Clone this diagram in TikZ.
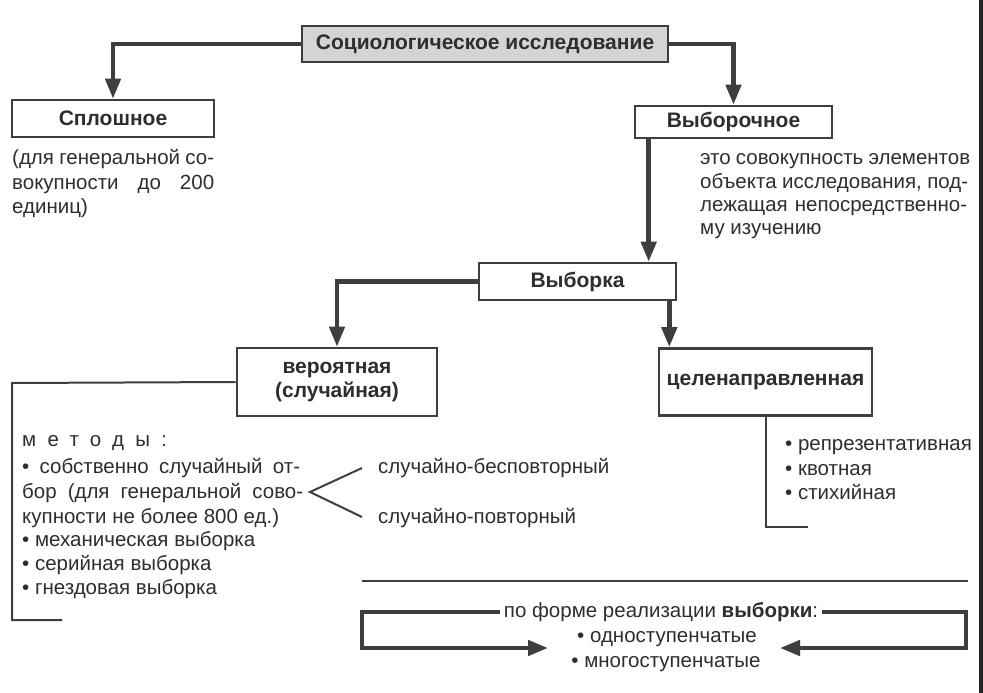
\documentclass[tikz,border=0pt]{standalone}
\usepackage{fontspec}
\setmainfont{Liberation Sans}
\usetikzlibrary{arrows.meta,calc}
\definecolor{lc}{HTML}{3E3E3E}
\definecolor{tc}{HTML}{2E2E2E}
\definecolor{topfill}{HTML}{D4D4D4}
\begin{document}
\begin{tikzpicture}[x=1pt,y=-1pt,
  box/.style={draw=lc, line width=2.6pt, fill=white, inner sep=0pt, text=tc, align=center,
    font=\bfseries\fontsize{21}{24}\selectfont},
  arr/.style={draw=lc, line width=4.5pt, -{Triangle[width=15pt,length=20pt]}},
  thinline/.style={draw=lc, line width=2pt},
  sepline/.style={draw=lc, line width=2.6pt},
  txt/.style={anchor=base west, inner sep=0pt, text=tc, font=\fontsize{20.5}{24}\selectfont},
  ctxt/.style={anchor=base, inner sep=0pt, text=tc, font=\fontsize{20.5}{24}\selectfont},
]
\fill[white] (0,0) rectangle (983,693);
\useasboundingbox (0,0) rectangle (983,693);
\fill[black!85] (979,0) rectangle (983,693);

% boxes
\node[box, fill=topfill, minimum width=366pt, minimum height=36pt] (top) at (485,44) {Социологическое исследование};
\node[box, minimum width=202pt, minimum height=37pt] (spl) at (113,118.5) {Сплошное};
\node[box, minimum width=197pt, minimum height=32pt] (vyb) at (733.5,122) {Выборочное};
\node[box, minimum width=197pt, minimum height=37pt] (vka) at (577.5,281.5) {Выборка};
\node[box, minimum width=200pt, minimum height=68pt] (ver) at (337,382) {вероятная\\(случайная)};
\node[box, minimum width=213pt, minimum height=67pt] (cel) at (765.5,382) {целенаправленная};

% arrows
\draw[arr] (top.west) -| (spl.north);
\draw[arr] (top.east) -| (vyb.north);
\coordinate (vybL) at ([xshift=15pt]vyb.south west);
\draw[arr] (vybL) -- (vybL |- vka.north);
\draw[arr] (vka.west) -| (ver.north);
\coordinate (vkaR) at ([xshift=-8pt]vka.south east);
\draw[arr] (vkaR) -- (vkaR |- cel.north);

% texts under Сплошное
\node[txt] (s1) at (12,164) {\makebox[202pt][s]{(для генеральной со-}};
\node[txt] (s2) at (12,189) {\makebox[202pt][s]{вокупности до 200}};
\node[txt] (s3) at (12,213) {единиц)};

% texts under Выборочное
\node[txt] (d1) at (700,164) {\makebox[270pt][s]{это совокупность элементов}};
\node[txt] (d2) at (700,188) {\makebox[268pt][s]{объекта исследования, под-}};
\node[txt] (d3) at (700,211) {\makebox[267pt][s]{лежащая непосредственно-}};
\node[txt] (d4) at (700,234) {му изучению};

% left bracket
\coordinate (lb1) at (12,383);
\coordinate (lb2) at (12,620);
\coordinate (lb3) at (62,620);
\draw[thinline] (ver.west) -- (lb1) -- (lb2) -- (lb3);

\node[txt] (m0) at (22,446) {\addfontfeature{LetterSpace=55}методы:};
\node[txt] (m1) at (22,473) {\makebox[278pt][s]{• собственно случайный от-}};
\node[txt] (m2) at (22,498) {\makebox[281pt][s]{бор (для генеральной сово-}};
\node[txt] (m3) at (22,523) {купности не более 800 ед.)};
\node[txt] (m4) at (22,546) {• механическая выборка};
\node[txt] (m5) at (22,570) {• серийная выборка};
\node[txt] (m6) at (22,594) {• гнездовая выборка};

% fork
\coordinate (fa) at (362,468);
\coordinate (fb) at (310,492);
\coordinate (fc) at (362,517);
\draw[thinline] (fa) -- (fb) -- (fc);
\node[txt] (f1) at (378,473) {случайно-бесповторный};
\node[txt] (f2) at (378,523) {случайно-повторный};

% right bracket
\coordinate (rb1) at (cel.south |- 0,527);
\coordinate (rb2) at (808,527);
\draw[thinline] (cel.south) -- (rb1) -- (rb2);
\node[txt] (r1) at (785,450) {• репрезентативная};
\node[txt] (r2) at (785,475) {• квотная};
\node[txt] (r3) at (785,499) {• стихийная};

% separator
\coordinate (sp1) at (362,581);
\coordinate (sp2) at (968,581);
\draw[sepline] (sp1) -- (sp2);

% bottom
\node[anchor=center, inner xsep=4pt, inner ysep=0pt, text=tc, font=\fontsize{20.5}{24}\selectfont] (forma) at (661,612) {по форме реализации \textbf{выборки}:};
\coordinate (bl1) at (362,612);
\coordinate (bl2) at (362,648);
\coordinate (tipL) at (548,648);
\coordinate (br1) at (966,612);
\coordinate (br2) at (966,648);
\coordinate (tipR) at (780,648);
\draw[arr] (forma.west) -- (bl1) -- (bl2) -- (tipL);
\draw[arr] (forma.east) -- (br1) -- (br2) -- (tipR);
\node[ctxt] (o1) at (667,642) {• одноступенчатые};
\node[ctxt] (o2) at (666,667) {• многоступенчатые};
\end{tikzpicture}
\end{document}
